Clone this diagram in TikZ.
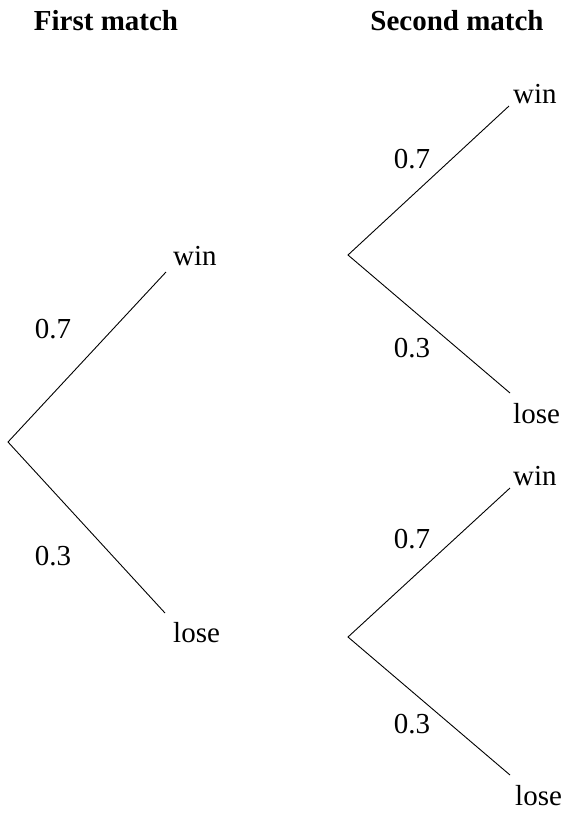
\documentclass[tikz,border=0pt]{standalone}
\usepackage{fontspec}
\setmainfont{Liberation Serif}
\usetikzlibrary{positioning}

\begin{document}
\begin{tikzpicture}[x=1pt, y=-1pt, font=\fontsize{29}{34}\selectfont,
    branch/.style={line width=0.9pt},
    outcome/.style={anchor=base west, inner sep=0pt},
    prob/.style={anchor=base, inner sep=0pt},
    heading/.style={anchor=base, inner sep=0pt, font=\fontsize{29}{34}\selectfont\bfseries}]
        \useasboundingbox (0,0) rectangle (573,820);

        % headings
        \node[heading] (h1) at (106,30) {First match};
        \node[heading] (h2) at (457,30) {Second match};

        % first match
        \coordinate (r) at (8,442);
        \coordinate (rw) at (166,272);
        \coordinate (rl) at (165,613);
        \node[outcome] (w) at (173,265) {win};
        \node[outcome] (l) at (173,642) {lose};
        \node[prob] (pw) at (53,338) {0.7};
        \node[prob] (pl) at (53,565) {0.3};
        \draw[branch] (rw) -- (r) -- (rl);

        % second match after a win
        \coordinate (a) at (348,255);
        \coordinate (aw) at (509,106);
        \coordinate (al) at (510,393);
        \node[outcome] (ww) at (513,103) {win};
        \node[outcome] (wl) at (513,423) {lose};
        \node[prob] (pww) at (412,168) {0.7};
        \node[prob] (pwl) at (412,357) {0.3};
        \draw[branch] (aw) -- (a) -- (al);

        % second match after a loss
        \coordinate (b) at (348,637);
        \coordinate (bw) at (510,488);
        \coordinate (bl) at (510,775);
        \node[outcome] (lw) at (513,485) {win};
        \node[outcome] (ll) at (515,805) {lose};
        \node[prob] (plw) at (412,548) {0.7};
        \node[prob] (pll) at (412,733) {0.3};
        \draw[branch] (bw) -- (b) -- (bl);
\end{tikzpicture}
\end{document}
